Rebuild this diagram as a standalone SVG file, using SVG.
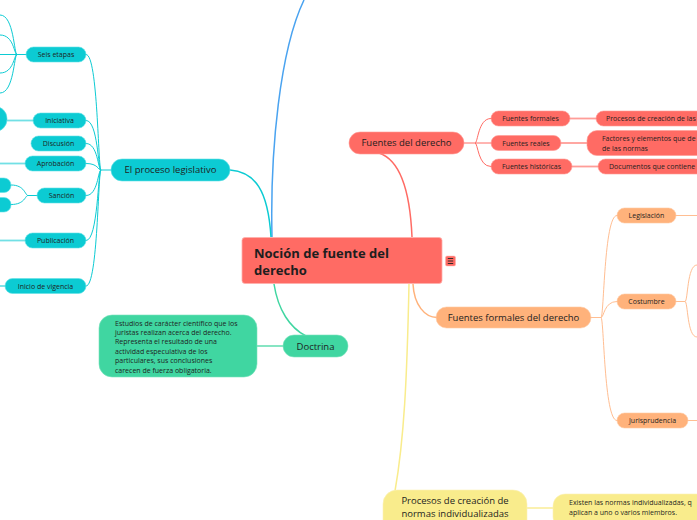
<svg xmlns="http://www.w3.org/2000/svg" width="697" height="520" viewBox="0 0 697 520">
<style>
text{font-family:"Open Sans","Noto Sans","Liberation Sans",sans-serif;fill:#1e1e1e}
.c{text-anchor:middle}
.s{font-size:7px}
.m{font-size:9.5px}
.cy{fill:#0ccbd3;stroke:#62e0e5;stroke-width:0.6}
.rd{fill:#ff6b64;stroke:#ff9a95;stroke-width:0.6}
.or{fill:#ffb27b;stroke:#ffcaa3;stroke-width:0.6}
.ye{fill:#f9ec8c;stroke:#fbf2b5;stroke-width:0.6}
.gr{fill:#40d6a1;stroke:#7ae3bd;stroke-width:0.6}
.ln{fill:none}
</style>
<rect width="697" height="520" fill="#ffffff"/>
<g id="connectors" fill="none">
  <path d="M272 237 C270 150 280 50 304 0" stroke="#4aa3f0" stroke-width="1.5"/>
  <path d="M271 237 C268 190 255 172 230 170" stroke="#0ccbd3" stroke-width="1.5"/>
  <path d="M412 237 C410 190 400 160 379 153" stroke="#ff6b64" stroke-width="1.5"/>
  <path d="M274 284 C278 310 290 328 306 336" stroke="#40d6a1" stroke-width="1.5"/>
  <path d="M413 284 C414 305 425 317.5 437 317.5" stroke="#ffb27b" stroke-width="1.5"/>
  <path d="M409 284 C407 380 404 440 395 491" stroke="#f9ec8c" stroke-width="1.5"/>
  <!-- proceso legislativo spine -->
  <g stroke="#0ccbd3" stroke-width="1">
    <path d="M111 170 H101 C98 170 98 54.5 86 54.5"/>
    <path d="M101 170 C98 170 98 120.5 86 120.5"/>
    <path d="M101 170 C98 170 98 143.5 86 143.5"/>
    <path d="M101 170 C98 170 98 163.5 86 163.5"/>
    <path d="M101 170 C98 170 98 195.5 86 195.5"/>
    <path d="M101 170 C98 170 98 240.5 86 240.5"/>
    <path d="M101 170 C98 170 98 286 86 286"/>
    <path d="M26 54.5 H17 C14 54.5 14 15 0 15"/>
    <path d="M17 54.5 C14 54.5 14 35 0 35"/>
    <path d="M17 54.5 H0"/>
    <path d="M17 54.5 C14 54.5 14 73 0 73"/>
    <path d="M17 54.5 C14 54.5 14 93 0 93"/>
    <path d="M37 195.5 H28 C25 195.5 25 185 11 185"/>
    <path d="M28 195.5 C25 195.5 25 204.5 11 204.5"/>
  </g>
  <g stroke="#72e0e5" stroke-width="1.8">
    <path d="M33 120.5 H7"/>
    <path d="M25 163.5 H0"/>
    <path d="M25 240.5 H0"/>
    <path d="M5 286 H0"/>
  </g>
  <!-- fuentes del derecho -->
  <g stroke="#ff6b64" stroke-width="1">
    <path d="M464 143 H475 C478 143 478 118.5 491 118.5"/>
    <path d="M475 143 H491"/>
    <path d="M475 143 C478 143 478 166.5 491 166.5"/>
  </g>
  <g stroke="#ff9d98" stroke-width="1.8">
    <path d="M570 118.5 H596"/>
    <path d="M561 143 H587"/>
    <path d="M572 166.5 H598"/>
  </g>
  <!-- fuentes formales -->
  <g stroke="#ffbe92" stroke-width="1">
    <path d="M591 317.5 H601 C604 317.5 604 215.5 617 215.5"/>
    <path d="M601 317.5 C604 317.5 604 301.5 617 301.5"/>
    <path d="M601 317.5 C604 317.5 604 420.5 617 420.5"/>
    <path d="M676 215.5 H697"/>
    <path d="M676 301.5 H685 C688 301.5 687 265 697 265"/>
    <path d="M685 301.5 C688 301.5 687 337 697 337"/>
    <path d="M688 420.5 H697"/>
  </g>
  <path d="M257 346 H283" stroke="#7ae3bd" stroke-width="1.8"/>
  <path d="M527 508 H553" stroke="#fbf0a8" stroke-width="1.8"/>
</g>

<g id="central">
  <rect x="242" y="237.5" width="200" height="46" rx="3" fill="#ff6b64" stroke="#ffb0ac" stroke-width="0.8"/>
  <text x="254" y="258" font-size="13" font-weight="bold" fill="#111">Noción de fuente del</text>
  <text x="254" y="275" font-size="13" font-weight="bold" fill="#111">derecho</text>
</g>
<g id="central-icon">
  <rect x="445.5" y="256" width="10" height="10" rx="1.5" fill="#ff6b64" stroke="#ffb0ac" stroke-width="0.5"/>
  <path d="M447.8 258.5 H453.2 M447.8 261 H453.2 M447.8 263.5 H453.2" stroke="#222" stroke-width="0.9"/>
</g>

<g id="proceso-legislativo">
  <rect class="cy" x="111" y="159" width="119" height="22" rx="11"/>
  <text class="c m" x="170.5" y="173.3">El proceso legislativo</text>
</g>
<g id="seis-etapas">
  <rect class="cy" x="26" y="47" width="60" height="15" rx="7.5"/>
  <text class="c s" x="56" y="57">Seis etapas</text>
</g>
<g id="seis-etapas-children">
  <rect class="cy" x="-20" y="106.5" width="27" height="25" rx="12"/>
  <rect class="cy" x="-20" y="178" width="31" height="14.5" rx="7"/>
  <rect class="cy" x="-20" y="197.5" width="31" height="14.5" rx="7"/>
</g>
<g id="iniciativa">
  <rect class="cy" x="33" y="113" width="53" height="15" rx="7.5"/>
  <text class="c s" x="59.5" y="123">Iniciativa</text>
</g>
<g id="discusion">
  <rect class="cy" x="31" y="136" width="55" height="15" rx="7.5"/>
  <text class="c s" x="58.5" y="146">Discusión</text>
</g>
<g id="aprobacion">
  <rect class="cy" x="25" y="156" width="61" height="15" rx="7.5"/>
  <text class="c s" x="55.5" y="166">Aprobación</text>
</g>
<g id="sancion">
  <rect class="cy" x="37" y="188" width="49" height="15" rx="7.5"/>
  <text class="c s" x="61.5" y="198">Sanción</text>
</g>
<g id="publicacion">
  <rect class="cy" x="25" y="233" width="61" height="15" rx="7.5"/>
  <text class="c s" x="55.5" y="243">Publicación</text>
</g>
<g id="inicio-vigencia">
  <rect class="cy" x="5" y="278.5" width="81" height="15" rx="7.5"/>
  <text class="c s" x="45.5" y="288.5">Inicio de vigencia</text>
</g>

<g id="fuentes-derecho">
  <rect class="rd" x="349" y="132" width="115" height="22" rx="11"/>
  <text class="c m" x="406.5" y="146.3">Fuentes del derecho</text>
</g>
<g id="fuentes-formales">
  <rect class="rd" x="491" y="111" width="79" height="15" rx="7.5"/>
  <text class="c s" x="530.5" y="121">Fuentes formales</text>
</g>
<g id="fuentes-reales">
  <rect class="rd" x="491" y="135.5" width="70" height="15" rx="7.5"/>
  <text class="c s" x="526" y="145.5">Fuentes reales</text>
</g>
<g id="fuentes-historicas">
  <rect class="rd" x="491" y="159" width="81" height="15" rx="7.5"/>
  <text class="c s" x="531.5" y="169">Fuentes históricas</text>
</g>
<g id="procesos-creacion">
  <rect class="rd" x="596" y="111" width="130" height="15" rx="7.5"/>
  <text class="s" x="606" y="121">Procesos de creación de las</text>
</g>
<g id="factores">
  <rect class="rd" x="587" y="130.5" width="140" height="25" rx="10"/>
  <text class="s" x="602" y="141">Factores y elementos que de</text>
  <text class="s" x="602" y="150.5">de las normas</text>
</g>
<g id="documentos">
  <rect class="rd" x="598" y="159" width="130" height="15" rx="7.5"/>
  <text class="s" x="609" y="169">Documentos que contiene</text>
</g>

<g id="fuentes-formales-derecho">
  <rect class="or" x="436" y="307" width="155" height="21" rx="10.5"/>
  <text class="c m" x="513.5" y="321">Fuentes formales del derecho</text>
</g>
<g id="legislacion">
  <rect class="or" x="617" y="208" width="59" height="15" rx="7.5"/>
  <text class="c s" x="646.5" y="218">Legislación</text>
</g>
<g id="costumbre">
  <rect class="or" x="617" y="294" width="59" height="15" rx="7.5"/>
  <text class="c s" x="646.5" y="304">Costumbre</text>
</g>
<g id="jurisprudencia">
  <rect class="or" x="617" y="413" width="71" height="15" rx="7.5"/>
  <text class="c s" x="652.5" y="423">Jurisprudencia</text>
</g>

<g id="doctrina">
  <rect class="gr" x="283" y="335" width="65" height="22" rx="11"/>
  <text class="c m" x="315.5" y="349.5">Doctrina</text>
</g>
<g id="doctrina-desc">
  <rect class="gr" x="99" y="315" width="158" height="62" rx="13"/>
  <text class="s" x="115" y="325.5">Estudios de carácter científico que los</text>
  <text class="s" x="115" y="335">juristas realizan acerca del derecho.</text>
  <text class="s" x="115" y="344.4">Representa el resultado de una</text>
  <text class="s" x="115" y="353.8">actividad especulativa de los</text>
  <text class="s" x="115" y="363.2">particulares, sus conclusiones</text>
  <text class="s" x="115" y="372.6">carecen de fuerza obligatoria.</text>
</g>

<g id="procesos-individualizadas">
  <rect class="ye" x="383" y="490" width="144" height="45" rx="14"/>
  <text class="c m" x="455" y="504">Procesos de creación de</text>
  <text class="c m" x="455" y="516.5">normas individualizadas</text>
</g>
<g id="existen">
  <rect class="ye" x="553" y="494" width="160" height="35" rx="12"/>
  <text class="s" x="569" y="505">Existen las normas individualizadas, q</text>
  <text class="s" x="569" y="514.5">aplican a uno o varios miembros.</text>
</g>
</svg>
